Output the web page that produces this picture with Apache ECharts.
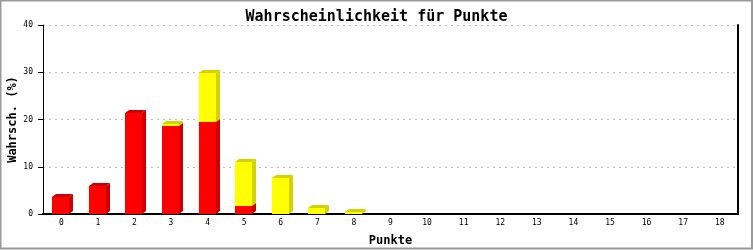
<!DOCTYPE html>
<html>
<head>
<meta charset="utf-8">
<script src="https://cdn.jsdelivr.net/npm/echarts@6/dist/echarts.min.js"></script>
<style>html,body{margin:0;padding:0;background:#fff}#c{width:753px;height:250px}</style>
</head>
<body>
<div id="c"></div>
<script>
const categories = ['0','1','2','3','4','5','6','7','8','9','10','11','12','13','14','15','16','17','18'];
const redValues =    [3.7, 6.0, 21.4, 18.7, 19.5, 1.7, 0, 0, 0, 0, 0, 0, 0, 0, 0, 0, 0, 0, 0];
const yellowValues = [0, 0, 0, 0.4, 10.4, 9.4, 7.7, 1.3, 0.5, 0, 0, 0, 0, 0, 0, 0, 0, 0, 0];
const yTicks = [0, 10, 20, 30, 40];

const FONT = '"DejaVu Sans Mono", "Liberation Mono", monospace';

function make3D(front, dark) {
  return function (params, api) {
    const idx = api.value(0), base = api.value(1), top = api.value(2);
    if (top - base <= 0) return null;
    const p0 = api.coord([idx, base]);
    const p1 = api.coord([idx, top]);
    const w = 17, dx = 4, dy = 3;
    const xl = Math.round(p0[0] - w / 2 - 0.5), xr = xl + w;
    const yb = Math.round(p0[1]), yt = Math.round(p1[1]);
    return {
      type: 'group',
      children: [
        { type: 'polygon', shape: { points: [[xr, yb], [xr + dx, yb - dy], [xr + dx, yt - dy], [xr, yt]] }, style: { fill: dark } },
        { type: 'polygon', shape: { points: [[xl, yt], [xl + dx, yt - dy], [xr + dx, yt - dy], [xr, yt]] }, style: { fill: dark } },
        { type: 'rect', shape: { x: xl, y: yt, width: w, height: yb - yt }, style: { fill: front } }
      ]
    };
  };
}

const redData = categories.map((c, i) => [i, 0, redValues[i]]);
const yellowData = categories.map((c, i) => [i, redValues[i], redValues[i] + yellowValues[i]]);

const chart = echarts.init(document.getElementById('c'), null, { renderer: 'canvas' });
chart.setOption({
  animation: false,
  backgroundColor: '#fff',
  title: {
    text: 'Wahrscheinlichkeit für Punkte',
    left: 'center', top: 5,
    textStyle: { fontFamily: FONT, fontSize: 15, fontWeight: 'bold', color: '#000' }
  },
  grid: { left: 43, right: 15, top: 25, bottom: 36, containLabel: false, outerBoundsMode: 'none' },
  xAxis: {
    type: 'category',
    data: categories,
    boundaryGap: true,
    name: 'Punkte',
    nameLocation: 'middle',
    nameGap: 21,
    nameMoveOverlap: false,
    nameTextStyle: { fontFamily: FONT, fontSize: 12, fontWeight: 'bold', color: '#000' },
    axisLine: { lineStyle: { color: '#000', width: 2 } },
    axisTick: { show: false },
    axisLabel: { fontFamily: FONT, fontSize: 8, color: '#000', margin: 5 }
  },
  yAxis: [{
    type: 'value',
    min: yTicks[0], max: yTicks[yTicks.length - 1], interval: 10,
    name: 'Wahrsch. (%)',
    nameLocation: 'middle',
    nameGap: 24,
    nameMoveOverlap: false,
    nameTextStyle: { fontFamily: FONT, fontSize: 12, fontWeight: 'bold', color: '#000' },
    axisLine: { show: true, lineStyle: { color: '#000', width: 1 } },
    axisTick: { show: true, length: 5, lineStyle: { color: '#000' } },
    axisLabel: { fontFamily: FONT, fontSize: 8, color: '#000', margin: 10 },
    splitLine: { show: true, lineStyle: { color: '#bbb', type: [2, 4], width: 1 } }
  }, {
    type: 'value',
    position: 'right',
    min: 0, max: 40, interval: 10,
    axisLine: { show: true, lineStyle: { color: '#000', width: 2 } },
    axisTick: { show: false },
    axisLabel: { show: false },
    splitLine: { show: false }
  }],
  graphic: [{
    type: 'rect',
    shape: { x: 0.5, y: 0.5, width: 751.5, height: 248 },
    style: { fill: null, stroke: '#999', lineWidth: 2 },
    silent: true
  }],
  series: [
    { type: 'custom', renderItem: make3D('#ff0000', '#cc0000'), data: redData, encode: { x: 0, y: [1, 2] }, clip: false },
    { type: 'custom', renderItem: make3D('#ffff00', '#d2d200'), data: yellowData, encode: { x: 0, y: [1, 2] }, clip: false }
  ]
});
</script>
</body>
</html>
